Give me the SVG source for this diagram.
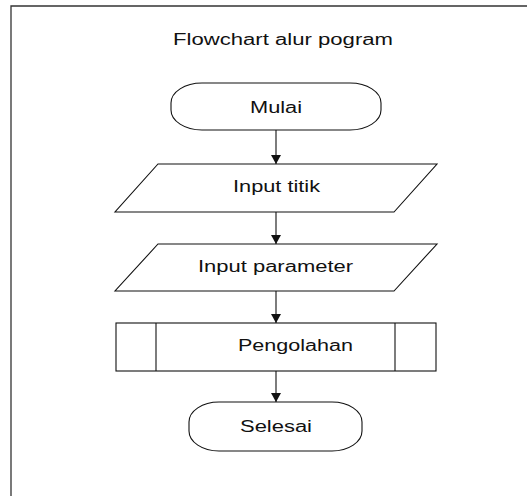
<svg xmlns="http://www.w3.org/2000/svg" width="527" height="496" viewBox="0 0 527 496">
  <style>
    .frame { fill: none; stroke: #333; stroke-width: 1.3; }
    .shape { fill: #fff; stroke: #111; stroke-width: 1.1; }
    .conn { fill: none; stroke: #111; stroke-width: 1.1; }
    .lbl { font-family: "Liberation Sans", Arial, sans-serif; font-size: 16px; fill: #111; }
  </style>
  <defs>
    <marker id="arrow" markerUnits="userSpaceOnUse" markerWidth="9" markerHeight="10" viewBox="0 0 9 10" refX="9" refY="5" orient="auto">
      <path d="M0,0 L9,5 L0,10 z" fill="#111"/>
    </marker>
  </defs>
  <rect x="0" y="0" width="527" height="496" fill="#fff"/>
  <g id="frame">
    <path class="frame" d="M11,496 L11,6 L527,6"/>
    <text class="lbl" x="173" y="45" textLength="220" lengthAdjust="spacingAndGlyphs">Flowchart alur pogram</text>
  </g>
  <g id="connectors">
    <line class="conn" x1="276" y1="130" x2="276" y2="164" marker-end="url(#arrow)"/>
    <line class="conn" x1="276" y1="212" x2="276" y2="244" marker-end="url(#arrow)"/>
    <line class="conn" x1="276" y1="291" x2="276" y2="323" marker-end="url(#arrow)"/>
    <line class="conn" x1="276" y1="371" x2="276" y2="402" marker-end="url(#arrow)"/>
  </g>
  <g id="mulai">
    <rect class="shape" x="171" y="83" width="210" height="47" rx="31" ry="20"/>
    <text class="lbl" x="250" y="113" textLength="52" lengthAdjust="spacingAndGlyphs">Mulai</text>
  </g>
  <g id="input-titik">
    <polygon class="shape" points="158,164 437,164 394,212 115,212"/>
    <text class="lbl" x="233" y="192" textLength="87" lengthAdjust="spacingAndGlyphs">Input titik</text>
  </g>
  <g id="input-parameter">
    <polygon class="shape" points="158,244 437,244 394,291 115,291"/>
    <text class="lbl" x="198" y="272" textLength="155" lengthAdjust="spacingAndGlyphs">Input parameter</text>
  </g>
  <g id="pengolahan">
    <rect class="shape" x="116" y="323" width="320" height="48"/>
    <line class="conn" x1="156" y1="323" x2="156" y2="371"/>
    <line class="conn" x1="395" y1="323" x2="395" y2="371"/>
    <text class="lbl" x="238" y="351" textLength="115" lengthAdjust="spacingAndGlyphs">Pengolahan</text>
  </g>
  <g id="selesai">
    <rect class="shape" x="189" y="402" width="173" height="49" rx="30" ry="20"/>
    <text class="lbl" x="240" y="432" textLength="72" lengthAdjust="spacingAndGlyphs">Selesai</text>
  </g>
</svg>
